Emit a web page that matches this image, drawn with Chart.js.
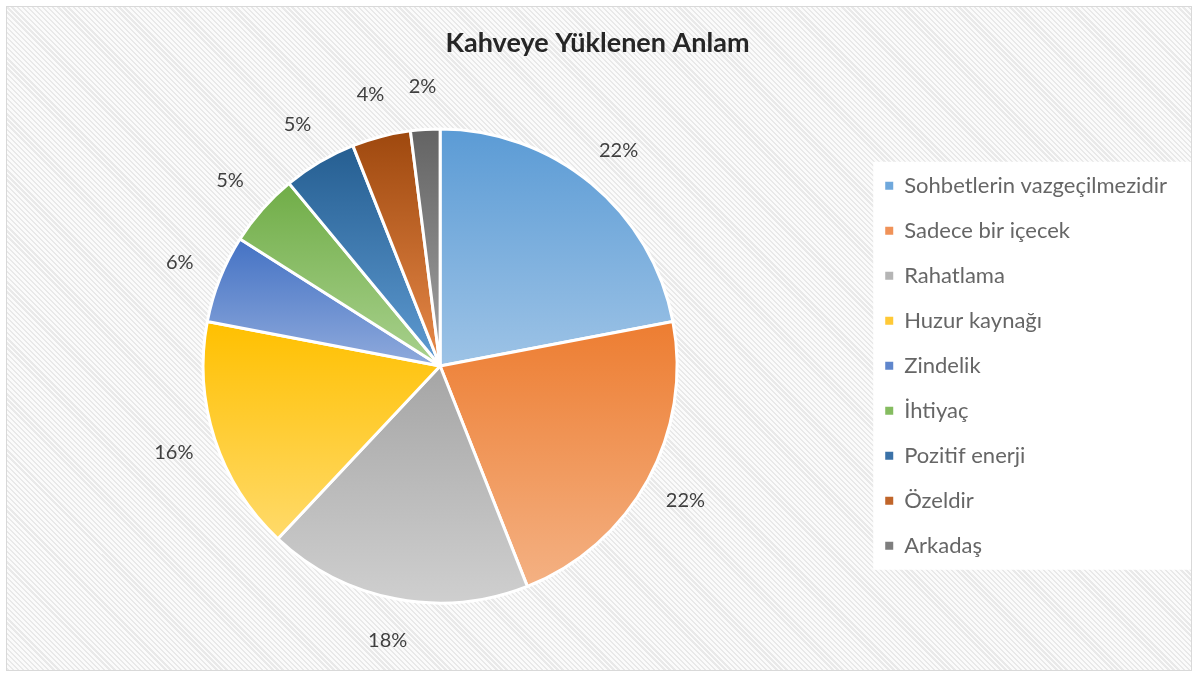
<!DOCTYPE html>
<html>
<head>
<meta charset="utf-8">
<script src="https://cdn.jsdelivr.net/npm/chart.js@4/dist/chart.umd.min.js"></script>
<style>
  body { margin: 0; background: #fff; }
  #wrap {
    position: absolute; left: 6px; top: 6px;
    width: 1184px; height: 663px;
    border: 1px solid #d9d9d9;
    background: repeating-linear-gradient(45deg, #e9e9e9 0px, #e9e9e9 1.6px, #fbfbfb 1.6px, #fbfbfb 3.6px);
  }
</style>
</head>
<body>
<div id="wrap"><canvas id="pie" width="1184" height="663"></canvas></div>
<script>
// veriler
var kategoriler = ['Sohbetlerin vazgeçilmezidir', 'Sadece bir içecek', 'Rahatlama', 'Huzur kaynağı', 'Zindelik', 'İhtiyaç', 'Pozitif enerji', 'Özeldir', 'Arkadaş'];
var yuzdeler = [22, 22, 18, 16, 6, 5, 5, 4, 2];
var ustRenk = ['#5B9BD5', '#ED7D31', '#A5A5A5', '#FFC000', '#4472C4', '#70AD47', '#255E91', '#9E480E', '#636363'];
var altRenk = ['#9DC3E6', '#F4B183', '#CFCFCF', '#FFDA6A', '#8FAADC', '#A9D18E', '#5F9BD2', '#E88A4A', '#A3A3A3'];
var legendRenk = ['#6FA8DC', '#F09258', '#B5B5B5', '#FFC936', '#5F86CC', '#85BC60', '#3B72A8', '#C0652A', '#7E7E7E'];

var yaziFont = 'Lato, "Open Sans", sans-serif';

// her dilim icin yukaridan asagi gradyan
function dilimRengi(ctx) {
  var chart = ctx.chart;
  var ca = chart.chartArea;
  var i = ctx.dataIndex;
  if (!ca || i === undefined) return ustRenk[i || 0];
  var cx = (ca.left + ca.right) / 2;
  var cy = (ca.top + ca.bottom) / 2;
  var r = (Math.min(ca.right - ca.left, ca.bottom - ca.top) - 3) / 2;
  var toplam = yuzdeler.reduce(function (a, b) { return a + b; }, 0);
  var once = 0;
  for (var k = 0; k < i; k++) once += yuzdeler[k];
  var a0 = -Math.PI / 2 + once / toplam * Math.PI * 2;
  var a1 = a0 + yuzdeler[i] / toplam * Math.PI * 2;
  var ymin = cy, ymax = cy;
  for (var s = 0; s <= 60; s++) {
    var a = a0 + (a1 - a0) * s / 60;
    var y = cy + r * Math.sin(a);
    ymin = Math.min(ymin, y);
    ymax = Math.max(ymax, y);
  }
  var g = chart.ctx.createLinearGradient(0, ymin, 0, ymax);
  g.addColorStop(0, ustRenk[i]);
  g.addColorStop(1, altRenk[i]);
  return g;
}

// legend arkasindaki beyaz kutu
var legendKutu = {
  id: 'legendKutu',
  beforeDraw: function (chart) {
    var lg = chart.legend;
    if (!lg || !lg.legendHitBoxes || !lg.legendHitBoxes.length) return;
    var hb = lg.legendHitBoxes;
    var c = chart.ctx;
    var x0 = hb[0].left - 12;
    var y0 = hb[0].top - 13;
    var x1 = lg.right + 17;
    var y1 = hb[hb.length - 1].top + hb[hb.length - 1].height + 13;
    c.save();
    c.fillStyle = '#ffffff';
    c.fillRect(x0, y0, x1 - x0, y1 - y0);
    c.restore();
  }
};

// dilim disindaki yuzde etiketleri
var yuzdeEtiket = {
  id: 'yuzdeEtiket',
  afterDatasetsDraw: function (chart) {
    var c = chart.ctx;
    var meta = chart.getDatasetMeta(0);
    var toplam = yuzdeler.reduce(function (a, b) { return a + b; }, 0);
    c.save();
    c.font = '20px ' + yaziFont;
    c.fillStyle = '#404040';
    c.textAlign = 'center';
    c.textBaseline = 'middle';
    meta.data.forEach(function (arc, i) {
      var p = arc.getProps(['x', 'y', 'startAngle', 'endAngle', 'outerRadius'], true);
      var orta = (p.startAngle + p.endAngle) / 2;
      var d = p.outerRadius + 43;
      var x = p.x + Math.cos(orta) * d;
      var y = p.y + Math.sin(orta) * d;
      c.fillText(Math.round(yuzdeler[i] / toplam * 100) + '%', x, y);
    });
    c.restore();
  }
};

var pieChart = new Chart(document.getElementById('pie').getContext('2d'), {
  type: 'pie',
  data: {
    labels: kategoriler,
    datasets: [{
      data: yuzdeler,
      backgroundColor: dilimRengi,
      borderColor: '#ffffff',
      borderWidth: 3
    }]
  },
  options: {
    responsive: false,
    animation: false,
    layout: { padding: { left: 11, right: 14, top: 0, bottom: 65.5 } },
    plugins: {
      title: {
        display: true,
        text: 'Kahveye Yüklenen Anlam',
        color: '#262626',
        font: { family: yaziFont, size: 27, weight: 'bold' },
        padding: { top: 19.8, bottom: 68.3 }
      },
      legend: {
        position: 'right',
        title: { display: true, text: '', padding: { top: 52.8, bottom: 52.8 } },
        labels: {
          boxWidth: 8,
          boxHeight: 8,
          padding: 23,
          color: '#404040',
          font: { family: yaziFont, size: 22 },
          generateLabels: function (chart) {
            return kategoriler.map(function (t, i) {
              return { text: t, fillStyle: legendRenk[i], strokeStyle: legendRenk[i], lineWidth: 0, index: i, hidden: false };
            });
          }
        }
      },
      tooltip: { enabled: false }
    }
  },
  plugins: [legendKutu, yuzdeEtiket]
});
</script>
</body>
</html>
